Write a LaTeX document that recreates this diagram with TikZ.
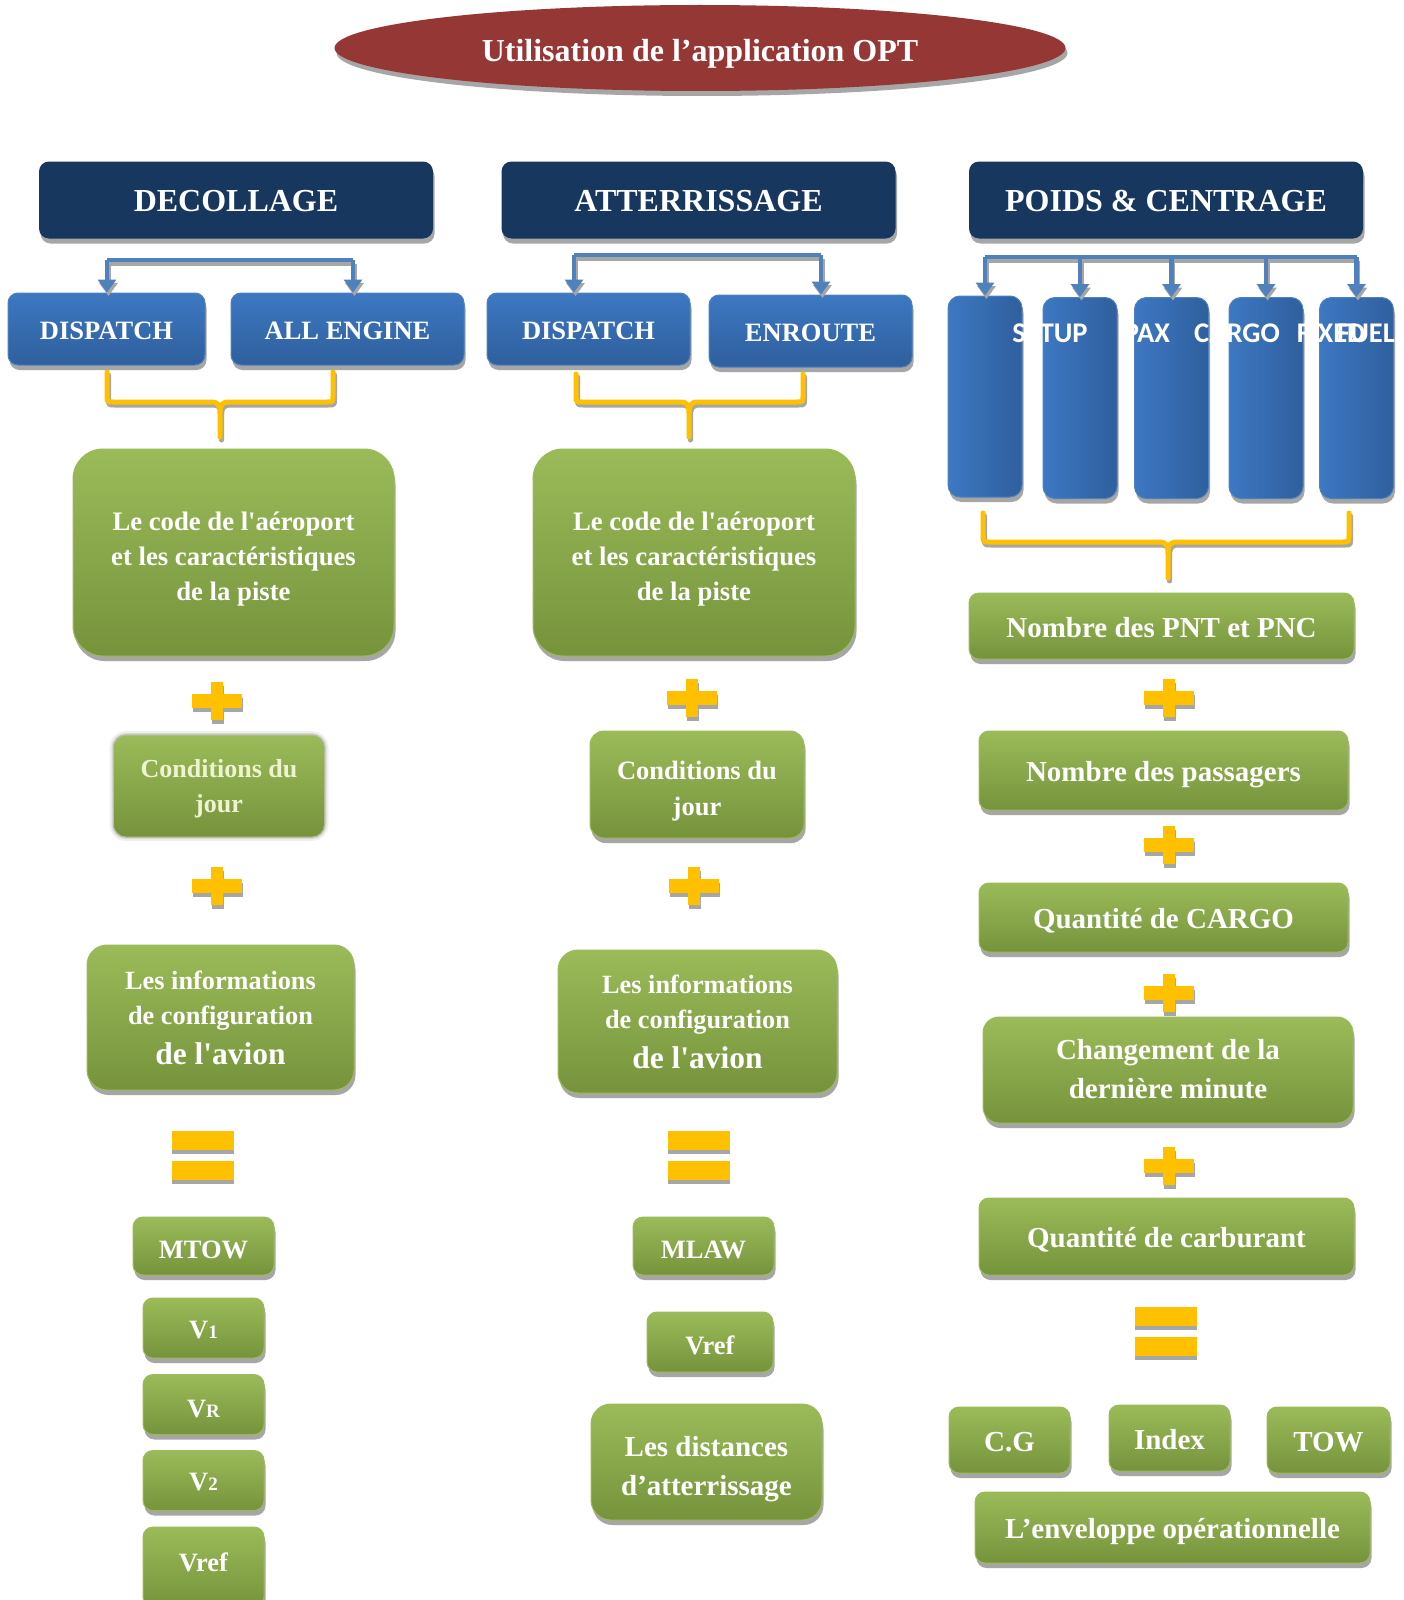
\documentclass[tikz,border=0pt]{standalone}
\usepackage{fontspec}
\setmainfont{Liberation Serif}
\newfontfamily\calibfont{Carlito}
\usetikzlibrary{shapes.geometric,shadows,arrows.meta,calc}
\definecolor{navy}{HTML}{17375E}
\definecolor{blueT}{HTML}{3D78C2}
\definecolor{blueB}{HTML}{2F5F9E}
\definecolor{greenT}{HTML}{9BBB59}
\definecolor{greenB}{HTML}{76933C}
\definecolor{gold}{HTML}{FFC000}
\definecolor{shgray}{HTML}{A6A6A6}
\definecolor{wine}{HTML}{953735}
\definecolor{lineblue}{HTML}{4F81BD}
\definecolor{paletext}{HTML}{EEF3D2}
\newcommand\setfs[2]{\fontsize{#1}{#2}\selectfont}
% lower a text by #1 without changing the box it claims
\newcommand\dn[2]{\raisebox{-#1}[\height][\depth]{#2}}
\newcommand\dnl[2]{\raisebox{-#1}[\height][\depth]{\begin{tabular}{@{}c@{}}#2\end{tabular}}}
\tikzset{
  box/.style={rounded corners=10pt, inner sep=0pt, align=center, text=white,
    drop shadow={shadow xshift=1.5pt, shadow yshift=-5pt, fill=shgray, opacity=1}},
  hdr/.style={box, fill=navy, minimum width=394pt, minimum height=77pt,
    font=\bfseries\setfs{32}{38}},
  bbox/.style={box, top color=blueT, bottom color=blueB, draw=lineblue, line width=1pt,
    minimum height=72pt, font=\bfseries\setfs{26.5}{32}},
  tallbox/.style={box, rounded corners=12pt, left color=blueT, right color=blueB,
    draw=lineblue, line width=1pt, minimum width=74pt, minimum height=201pt},
  gbox/.style={box, top color=greenT, bottom color=greenB, draw=greenT, line width=1pt},
  gblur/.style={rounded corners=12pt, inner sep=0pt, align=center, text=paletext,
    top color=greenT, bottom color=greenB,
    preaction={draw=gray, line width=9pt, draw opacity=.12},
    preaction={draw=gray, line width=5pt, draw opacity=.2},
    preaction={draw=greenT!70!gray, line width=2.5pt, draw opacity=.5}},
  rtxt/.style={text=white, inner sep=0pt, anchor=base, font=\calibfont\bfseries\setfs{28.5}{30}},
  bconn/.style={draw=lineblue, line width=4.5pt, -{Triangle[width=18pt,length=13pt]}},
  bconnsh/.style={draw=shgray, line width=4.5pt, -{Triangle[width=18pt,length=13pt]},
    transform canvas={shift={(1.5pt,-3.5pt)}}},
  bbar/.style={draw=lineblue, line width=4.5pt},
  bbarsh/.style={draw=shgray, line width=4.5pt, transform canvas={shift={(1.5pt,-3.5pt)}}},
  braceY/.style={draw=gold, line width=5pt, line cap=round, line join=round},
  braceSh/.style={draw=shgray, line width=5pt, line cap=round, line join=round,
    transform canvas={shift={(1.5pt,-3pt)}}},
  plussign/.pic={
    \fill[shgray] (-24,-3) rectangle (26,11);
    \fill[shgray] (-5,-15) rectangle (7,23);
    \fill[gold] (-25,-7) rectangle (25,7);
    \fill[gold] (-6,-19) rectangle (6,19);
  },
  equalsign/.pic={
    \fill[shgray] (-31,-21) rectangle (31,-2);
    \fill[shgray] (-31,9) rectangle (31,28);
    \fill[gold] (-31,-25) rectangle (31,-6);
    \fill[gold] (-31,5) rectangle (31,24);
  }
}
\newcommand\mybrace[7]{%
  \draw[#7] (#1,#2) -- (#1,#3-6) .. controls (#1,#3) .. (#1+6,#3) -- (#5-10,#3)
    .. controls (#5-2,#3) and (#5,#3+2) .. (#5,#3+12) -- (#5,#6)
    (#4,#2) -- (#4,#3-6) .. controls (#4,#3) .. (#4-6,#3) -- (#5+10,#3)
    .. controls (#5+2,#3) and (#5,#3+2) .. (#5,#3+12);}
\begin{document}
\begin{tikzpicture}[x=1pt,y=-1pt]
\fill[white] (0,0) rectangle (1404,1600);
\useasboundingbox (0,0) rectangle (1404,1600);

% title
\node[ellipse, fill=wine, minimum width=731pt, minimum height=86pt, inner sep=0pt,
  text=white, font=\bfseries\setfs{32}{38},
  drop shadow={shadow xshift=2pt, shadow yshift=-5pt, fill=shgray, opacity=1}]
  (title) at (700,48) {\dn{6pt}{Utilisation de l’application OPT}};

% headers
\node[hdr] (hDec) at (236,200) {\dn{1.5pt}{DECOLLAGE}};
\node[hdr] (hAtt) at (698.5,200) {\dn{1.5pt}{ATTERRISSAGE}};
\node[hdr] (hPoi) at (1166,200) {\dn{1.5pt}{POIDS \& CENTRAGE}};

% blue boxes
\node[bbox, minimum width=197pt] (dispL) at (106.5,329) {\dn{2pt}{DISPATCH}};
\node[bbox, minimum width=233pt] (allE) at (347.5,329) {\dn{2pt}{ALL ENGINE}};
\node[bbox, minimum width=203pt] (dispM) at (588.5,329) {\dn{2pt}{DISPATCH}};
\node[bbox, minimum width=203pt] (enrM) at (810.5,331) {\dn{2pt}{ENROUTE}};

\node[tallbox] (t1) at (985,396.5) {};
\node[tallbox] (t2) at (1080,398) {};
\node[tallbox] (t3) at (1171.5,398) {};
\node[tallbox] (t4) at (1266,398) {};
\node[tallbox] (t5) at (1356.5,398) {};
\node[rtxt] (lSetup) at (1050,342) {SETUP};
\node[rtxt] (lPax) at (1147,342) {PAX};
\node[rtxt] (lCargo) at (1237,342) {CARGO};
\node[rtxt] (lFixed) at (1331,342) {FIXED};
\node[rtxt] (lFuel) at (1366,342) {FUEL};

% blue connectors
\coordinate (aL1) at (107,260); \coordinate (aL2) at (353,260);
\coordinate (aM1) at (574,255); \coordinate (aM2) at (821,255);
\coordinate (aR1) at (985,257); \coordinate (aR5) at (1356.5,257);
\foreach \s/\t in {bbarsh/bconnsh, bbar/bconn}{
  \draw[\s] (aL1) -- (aL2);
  \draw[\t] (aL1) -- (aL1 |- dispL.north);
  \draw[\t] (aL2) -- (aL2 |- allE.north);
  \draw[\s] (aM1) -- (aM2);
  \draw[\t] (aM1) -- (aM1 |- dispM.north);
  \draw[\t] (aM2) -- (aM2 |- enrM.north);
  \draw[\s] (aR1) -- (aR5);
  \draw[\t] (aR1) -- (t1.north);
  \draw[\t] (aR1 -| t2.north) -- (t2.north);
  \draw[\t] (aR1 -| t3.north) -- (t3.north);
  \draw[\t] (aR1 -| t4.north) -- (t4.north);
  \draw[\t] (aR5) -- (t5.north);
}

% braces
\foreach \st in {braceSh, braceY}{
  \mybrace{107}{372}{402}{333}{220}{437}{\st}
  \mybrace{576}{374}{402}{803}{689}{437}{\st}
  \mybrace{983}{513}{542}{1349}{1168}{578}{\st}
}

% ---------- DECOLLAGE column
\node[gbox, rounded corners=30pt, minimum width=321pt, minimum height=207pt,
  font=\bfseries\setfs{26.7}{35}] (codeL) at (233.5,552.5)
  {\dnl{6pt}{Le code de l\textquotesingle aéroport\\et les caractéristiques\\de la piste}};
\pic at (217,701) {plussign};
\node[gblur, minimum width=210pt, minimum height=101pt,
  font=\bfseries\setfs{26}{35}] (condL) at (219,786) {\dnl{1.5pt}{Conditions du\\jour}};
\pic at (217,886) {plussign};
\node[gbox, rounded corners=20pt, minimum width=267pt, minimum height=145pt,
  font=\bfseries\setfs{26.3}{35}] (infoL) at (220.5,1017.5)
  {\dnl{2pt}{Les informations\\de configuration\\[5pt]{\setfs{31.5}{35}de l\textquotesingle avion}}};
\pic at (203,1156) {equalsign};
\node[gbox, minimum width=141pt, minimum height=58pt, font=\bfseries\setfs{26.5}{32}]
  (mtow) at (203.5,1246) {\dn{4pt}{MTOW}};
\node[gbox, minimum width=121pt, minimum height=60pt, font=\bfseries\setfs{26.5}{32}]
  (v1) at (203.5,1328) {\dn{2pt}{V{\setfs{19}{20}1}}};
\node[gbox, minimum width=121pt, minimum height=60pt, font=\bfseries\setfs{26.5}{32}]
  (vr) at (203.5,1404.5) {\dn{4.5pt}{V{\setfs{19}{20}R}}};
\node[gbox, minimum width=121pt, minimum height=60pt, font=\bfseries\setfs{26.5}{32}]
  (v2) at (203.5,1480.5) {\dn{2pt}{V{\setfs{19}{20}2}}};
\node[gbox, minimum width=121pt, minimum height=80pt, font=\bfseries\setfs{26.5}{32},
  text depth=0pt] (vrefL) at (203.5,1567) {\raisebox{9pt}{Vref}};

% ---------- ATTERRISSAGE column
\node[gbox, rounded corners=30pt, minimum width=322pt, minimum height=207pt,
  font=\bfseries\setfs{26.7}{35}] (codeM) at (694,552.5)
  {\dnl{6pt}{Le code de l\textquotesingle aéroport\\et les caractéristiques\\de la piste}};
\pic at (692,698) {plussign};
\node[gbox, rounded corners=14pt, minimum width=214pt, minimum height=107pt,
  font=\bfseries\setfs{26.5}{36}] (condM) at (697,784.5) {\dnl{6pt}{Conditions du\\jour}};
\pic at (694,886) {plussign};
\node[gbox, rounded corners=20pt, minimum width=279pt, minimum height=143pt,
  font=\bfseries\setfs{26.3}{35}] (infoM) at (697.5,1021.5)
  {\dnl{2pt}{Les informations\\de configuration\\[5pt]{\setfs{31.5}{35}de l\textquotesingle avion}}};
\pic at (699,1156) {equalsign};
\node[gbox, minimum width=141pt, minimum height=58pt, font=\bfseries\setfs{26.5}{32}]
  (mlaw) at (703.5,1246) {\dn{4pt}{MLAW}};
\node[gbox, minimum width=126pt, minimum height=60pt, font=\bfseries\setfs{26.5}{32}]
  (vrefM) at (710,1342) {\dn{3pt}{Vref}};
\node[gbox, rounded corners=20pt, minimum width=231pt, minimum height=116pt,
  font=\bfseries\setfs{29}{39}] (dist) at (706.5,1462) {\dnl{6pt}{Les distances\\d’atterrissage}};

% ---------- POIDS & CENTRAGE column
\tikzset{rfont/.style={font=\bfseries\setfs{29}{39}}}
\node[gbox, rfont, minimum width=385pt, minimum height=66pt] (pnt) at (1161.5,626)
  {\dn{2pt}{Nombre des PNT et PNC}};
\pic at (1169,698) {plussign};
\node[gbox, rfont, minimum width=369pt, minimum height=79pt] (pass) at (1163.5,770.5)
  {\dn{4pt}{Nombre des passagers}};
\pic at (1169,845) {plussign};
\node[gbox, rfont, minimum width=369pt, minimum height=69pt] (qcargo) at (1163.5,917.5)
  {\dn{3pt}{Quantité de CARGO}};
\pic at (1169,993) {plussign};
\node[gbox, rfont, rounded corners=16pt, minimum width=370pt, minimum height=106pt]
  (chg) at (1168,1070) {\dnl{1.5pt}{Changement de la\\dernière minute}};
\pic at (1169,1166) {plussign};
\node[gbox, rfont, minimum width=375pt, minimum height=77pt] (carb) at (1166.5,1236.5)
  {\dn{3pt}{Quantité de carburant}};
\pic at (1166,1332) {equalsign};
\node[gbox, rfont, minimum width=121pt, minimum height=66pt] (cg) at (1009.5,1440) {\dn{2pt}{C.G}};
\node[gbox, rfont, minimum width=121pt, minimum height=66pt] (idx) at (1169.5,1438) {\dn{2pt}{Index}};
\node[gbox, rfont, minimum width=123pt, minimum height=66pt] (tow) at (1328.5,1440) {\dn{2pt}{TOW}};
\node[gbox, rfont, minimum width=395pt, minimum height=71pt] (env) at (1172.5,1527.5)
  {\dn{4pt}{L’enveloppe opérationnelle}};
\end{tikzpicture}
\end{document}
